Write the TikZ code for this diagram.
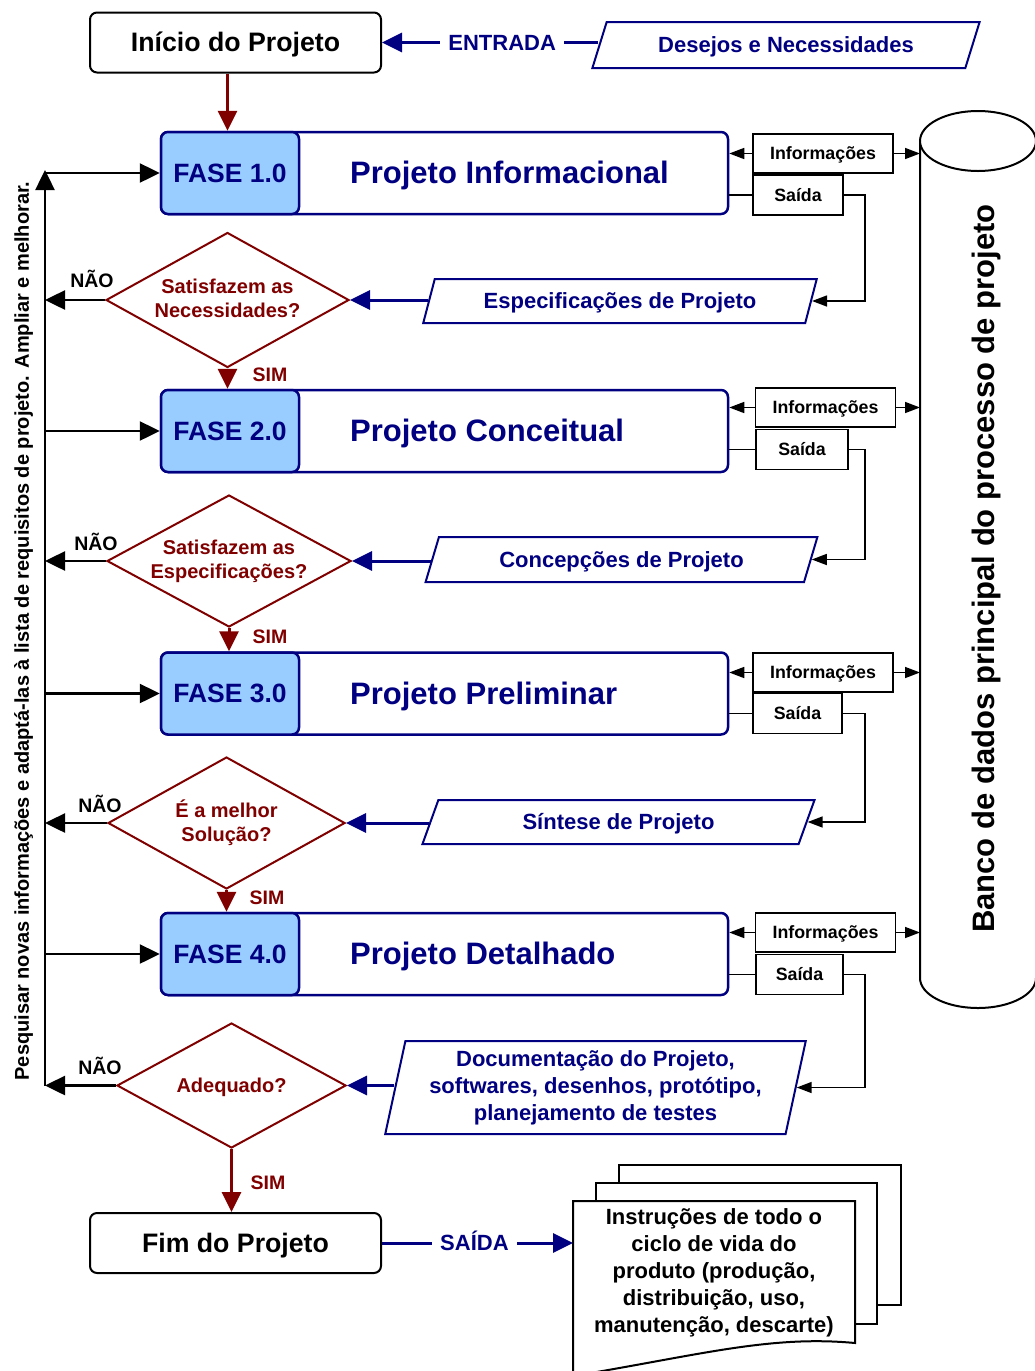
\documentclass[tikz,border=0pt]{standalone}
\usepackage{fontspec}
\setmainfont{Liberation Sans}
\usetikzlibrary{arrows.meta,shapes.geometric,calc}
\definecolor{navy}{RGB}{0,0,128}
\definecolor{wine}{RGB}{128,0,0}
\definecolor{faseblue}{RGB}{153,204,255}
% strut with the full ascent and descent of the font, so lines centre like in office tools
\newcommand{\linestrut}{\rule[-0.212em]{0pt}{1.117em}}

\begin{document}
\begin{tikzpicture}[x=1pt,y=-1pt,
  txt/.style={execute at begin node=\linestrut, execute at end node=\linestrut},
  terminal/.style={txt, draw=black, line width=2pt, rounded corners=7pt, minimum width=291pt,
    minimum height=60pt, inner sep=0pt, font=\fontsize{26.7}{32}\selectfont\bfseries},
  phasebox/.style={draw=navy, line width=2.5pt, rounded corners=7pt, minimum width=567pt,
    minimum height=82pt, inner sep=0pt},
  faselabel/.style={txt, draw=navy, fill=faseblue, line width=2.5pt, rounded corners=7pt,
    minimum width=138pt, minimum height=82pt, inner sep=0pt, anchor=west, text=navy,
    font=\fontsize{26.5}{32}\selectfont\bfseries},
  phasetitle/.style={txt, anchor=west, inner sep=0pt, text=navy, font=\fontsize{31}{36}\selectfont\bfseries},
  infobox/.style={txt, draw=black, line width=1.8pt, minimum width=140pt, minimum height=39pt,
    inner sep=0pt, font=\fontsize{17.8}{21}\selectfont\bfseries},
  saidabox/.style={infobox, minimum width=90pt, minimum height=40pt},
  decision/.style={txt, diamond, draw=wine, line width=2pt, aspect=1.8, inner sep=-5pt, text=wine,
    align=center, font=\fontsize{20}{24}\selectfont\bfseries},
  dataio/.style={txt, trapezium, trapezium stretches=true, draw=navy, line width=2pt, fill=white,
    inner sep=0pt, text=navy, align=center, font=\fontsize{22}{27}\selectfont\bfseries},
  flowlbl/.style={txt, inner sep=0pt, font=\fontsize{19.5}{23}\selectfont\bfseries},
  navylbl/.style={txt, fill=white, inner xsep=8pt, inner ysep=0pt, text=navy,
    font=\fontsize{22}{26}\selectfont\bfseries},
  doctext/.style={txt, align=center, inner sep=0pt, font=\fontsize{22}{27}\selectfont\bfseries},
  docpage/.style={draw=black, line width=2pt, fill=white},
  dbline/.style={draw=black, line width=2pt},
  simarrow/.style={draw=wine, line width=3pt, -{Triangle[length=20pt,width=19pt]}},
  navyarrow/.style={draw=navy, line width=3pt, -{Triangle[length=20pt,width=19pt]}},
  looparrow/.style={draw=black, line width=2.5pt, -{Triangle[length=20pt,width=19pt]}},
  smallarrow/.style={draw=black, line width=1.5pt, -{Triangle[length=15pt,width=11pt]}},
  thinline/.style={draw=black, line width=1.5pt}
]
\path[use as bounding box, fill=white] (0,0) rectangle (1035,1371);

% database cylinder on the right
\draw[dbline] (920,141) -- (920,978) arc[start angle=180, end angle=360, x radius=58pt, y radius=30pt] -- (1036,141);
\draw[dbline, fill=white] (978,141) ellipse[x radius=58pt, y radius=30pt];
\node[txt, rotate=90, inner sep=0pt, font=\fontsize{31}{36}\selectfont\bfseries] (dbtext) at (984,568.5)
  {Banco de dados principal do processo de projeto};
\coordinate (dbL) at (920,500);

% start
\node[terminal] (ini) at (235.5,42.5) {Início do Projeto};
\node[dataio, trapezium left angle=67.5, trapezium right angle=112.5, minimum width=388pt,
  minimum height=46pt] (des) at (786,45) {Desejos e Necessidades};

% phases
\node[phasebox] (p1) at (444.5,173) {};
\node[faselabel] (f1) at (p1.west) {FASE 1.0};
\node[phasetitle] (t1) at (350,173) {Projeto Informacional};

\node[phasebox] (p2) at (444.5,431) {};
\node[faselabel] (f2) at (p2.west) {FASE 2.0};
\node[phasetitle] (t2) at (350,431) {Projeto Conceitual};

\node[phasebox] (p3) at (444.5,693.5) {};
\node[faselabel] (f3) at (p3.west) {FASE 3.0};
\node[phasetitle] (t3) at (350,693.5) {Projeto Preliminar};

\node[phasebox] (p4) at (444.5,954) {};
\node[faselabel] (f4) at (p4.west) {FASE 4.0};
\node[phasetitle] (t4) at (350,954) {Projeto Detalhado};

% information and output boxes of each phase
\node[infobox] (i1) at (823,153.5) {Informações};
\node[saidabox] (s1) at (798,195) {Saída};
\node[infobox] (i2) at (825.5,407.5) {Informações};
\node[saidabox, minimum width=92pt] (s2) at (802,449.5) {Saída};
\node[infobox] (i3) at (823,672.5) {Informações};
\node[saidabox, minimum width=89pt] (s3) at (797.5,713.5) {Saída};
\node[infobox] (i4) at (825.5,932.5) {Informações};
\node[saidabox, minimum width=87pt] (s4) at (799.5,974.5) {Saída};

% decisions
\node[decision, minimum width=243pt, minimum height=135pt] (d1) at (227.5,300) {Satisfazem as\\Necessidades?};
\node[decision, minimum width=244pt, minimum height=132pt] (d2) at (229,561) {Satisfazem as\\Especificações?};
\node[decision, minimum width=237pt, minimum height=132pt] (d3) at (226.5,823) {É a melhor\\Solução?};
\node[decision, minimum width=229pt, minimum height=125pt] (d4) at (231.5,1085.5) {Adequado?};

% phase results
\node[dataio, trapezium left angle=71, trapezium right angle=109, minimum width=394pt,
  minimum height=44pt] (par1) at (620,301) {Especificações de Projeto};
\node[dataio, trapezium left angle=70, trapezium right angle=110, minimum width=393pt,
  minimum height=45pt] (par2) at (621.5,559.5) {Concepções de Projeto};
\node[dataio, trapezium left angle=71, trapezium right angle=109, minimum width=393pt,
  minimum height=44pt] (par3) at (618.5,822) {Síntese de Projeto};
\node[dataio, trapezium left angle=76.7, trapezium right angle=103.3, minimum width=421pt,
  minimum height=93pt] (par4) at (595.5,1087.5)
  {Documentação do Projeto,\\softwares, desenhos, protótipo,\\planejamento de testes};

% end
\node[terminal] (fim) at (235.5,1243) {Fim do Projeto};

% output documents
\draw[docpage] (619,1165) rectangle (901,1305);
\draw[docpage] (596,1183) rectangle (877,1324);
\draw[docpage] (573,1201) -- (855,1201) -- (855,1343)
  .. controls (770,1335) and (700,1355) .. (573,1376) -- cycle;
\node[doctext] (doc) at (714,1273)
  {Instruções de todo o\\ciclo de vida do\\produto (produção,\\distribuição, uso,\\manutenção, descarte)};
\coordinate (docL) at (573,1244);

% side note
\node[txt, rotate=90, inner sep=0pt, font=\fontsize{20}{24}\selectfont\bfseries] (note) at (22,631)
  {Pesquisar novas informações e adaptá-las à lista de requisitos de projeto. Ampliar e melhorar.};

% yes / no labels
\node[flowlbl, text=wine] (sim1) at (270,375) {SIM};
\node[flowlbl, text=wine] (sim2) at (270,637) {SIM};
\node[flowlbl, text=wine] (sim3) at (267,898) {SIM};
\node[flowlbl, text=wine] (sim4) at (268,1183) {SIM};
\node[flowlbl] (nao1) at (92,281) {NÃO};
\node[flowlbl] (nao2) at (96,544) {NÃO};
\node[flowlbl] (nao3) at (100,806) {NÃO};
\node[flowlbl] (nao4) at (100,1068) {NÃO};

% main flow
\draw[simarrow] (ini.south -| d1.north) -- (d1.north |- p1.north);
\draw[simarrow] (d1.south) -- (d1.south |- p2.north);
\draw[simarrow] (d2.south) -- (d2.south |- p3.north);
\draw[simarrow] (d3.south) -- (d3.south |- p4.north);
\draw[simarrow] (d4.south) -- (d4.south |- fim.north);

% input and output
\draw[navyarrow] (ini.east -| des.west) -- node[pos=0.445, navylbl] (entrada) {ENTRADA} (ini.east);
\draw[navyarrow] (fim.east) -- node[pos=0.484, navylbl] (saida) {SAÍDA} (fim.east -| docL);

% results into decisions
\draw[navyarrow] (d1.east -| par1.west) -- (d1.east);
\draw[navyarrow] (d2.east -| par2.west) -- (d2.east);
\draw[navyarrow] (d3.east -| par3.west) -- (d3.east);
\draw[navyarrow] (d4.east -| par4.west) -- (d4.east);

% feedback loop on the left
\coordinate (lx) at (45,0);
\draw[looparrow] (d1.west) -- (d1.west -| lx);
\draw[looparrow] (d2.west) -- (d2.west -| lx);
\draw[looparrow] (d3.west) -- (d3.west -| lx);
\draw[looparrow] (d4.west) -- (d4.west -| lx);
\draw[looparrow] (d4.west -| lx) -- ($(p1.west -| lx)+(0,-3)$);
\draw[looparrow] (p1.west -| lx) -- (p1.west);
\draw[looparrow] (p2.west -| lx) -- (p2.west);
\draw[looparrow] (p3.west -| lx) -- (p3.west);
\draw[looparrow] (p4.west -| lx) -- (p4.west);

% information exchange and outputs of each phase
\coordinate (xr) at (865,0);
\foreach \k in {1,2,3,4}{
  \draw[smallarrow] (i\k.west) -- (i\k.west -| p\k.east);
  \draw[smallarrow] (i\k.east) -- (i\k.east -| dbL);
  \draw[thinline] (s\k.west) -- (s\k.west -| p\k.east);
  \draw[smallarrow] (s\k.east) -- (s\k.east -| xr) |- (par\k.east);
}
\end{tikzpicture}
\end{document}
